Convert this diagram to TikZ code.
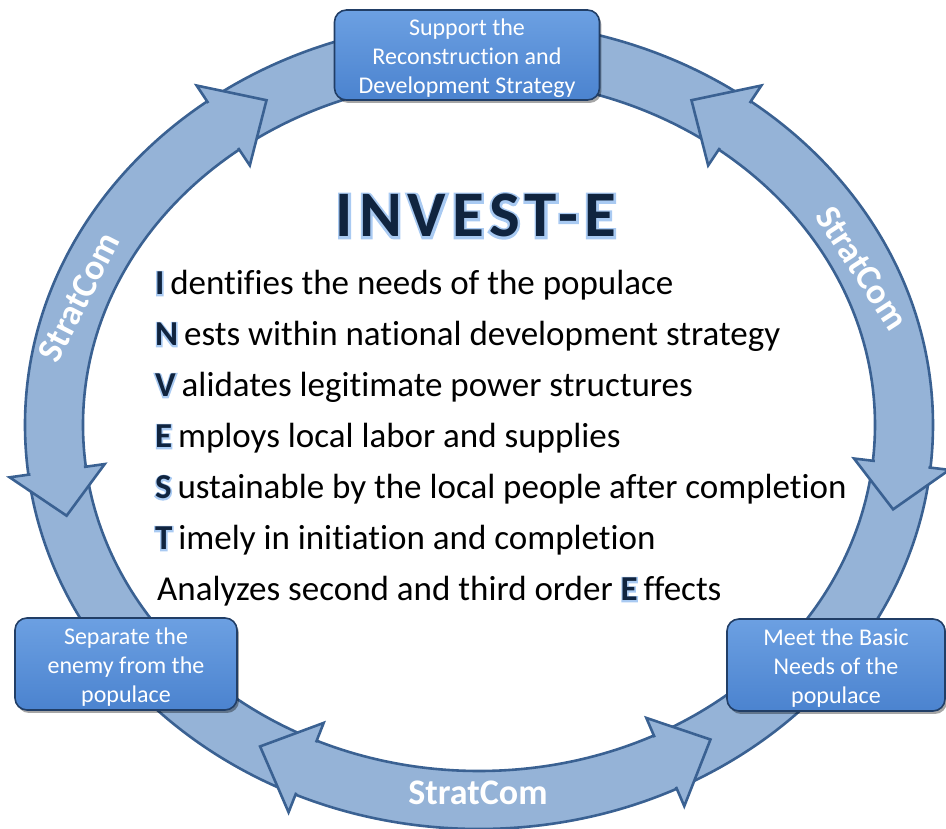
\documentclass[tikz,border=0pt]{standalone}
\usepackage{fontspec}
\setmainfont{Carlito}[Ligatures=NoCommon]
\newfontfamily\initfont[Ligatures=NoCommon]{Carlito Bold}
\newfontfamily\initglow[FakeBold=8]{Carlito Bold}
\newfontfamily\titlefont[LetterSpace=9]{Carlito Bold}
\newfontfamily\titleglow[LetterSpace=9,FakeBold=7]{Carlito Bold}
\usepackage{tikz}
\usetikzlibrary{math,calc,shadows}

\definecolor{bandfill}{HTML}{95B3D7}
\definecolor{bandline}{HTML}{3A6192}
\definecolor{boxtop}{HTML}{6CA0E2}
\definecolor{boxbot}{HTML}{4B83CF}
\definecolor{boxline}{HTML}{213E66}
\definecolor{navytext}{HTML}{10243F}
\definecolor{glowblue}{HTML}{A9CAF2}

\newcommand\initial[1]{\makebox[0pt][l]{\initglow\textcolor{glowblue}{#1}}%
  {\initfont\textcolor{navytext}{#1}}\,}
\newcommand\boxstrut{\rule{0pt}{23pt}}

\tikzset{
  goalbox/.style={draw=boxline, line width=1.6pt, rounded corners=12pt,
    top color=boxtop, bottom color=boxbot, text=white, align=center,
    font=\fontsize{24}{29}\selectfont, inner sep=0pt,
    drop shadow={shadow xshift=2pt, shadow yshift=-3pt, opacity=.35, fill=black}},
  stratcom/.style={text=white, font=\fontsize{36}{40}\selectfont\bfseries},
  item/.style={anchor=base west, inner sep=0pt, font=\fontsize{35}{40}\selectfont},
}

\begin{document}
\begin{tikzpicture}[x=1pt, y=1pt]
  \tikzmath{\ra = 425; \rb = 375; \bw = 29; \hw = 48; \nw = 27;}
  \useasboundingbox (-479,-404) rectangle (467,425);

  % ring
  \fill[bandfill, even odd rule] (0,0) ellipse [x radius=\ra+\bw, y radius=\rb+\bw]
    (0,0) ellipse [x radius=\ra-\bw, y radius=\rb-\bw];
  \draw[bandline, line width=2.6pt] (0,0) ellipse [x radius=\ra+\bw, y radius=\rb+\bw];
  \draw[bandline, line width=2.6pt] (0,0) ellipse [x radius=\ra-\bw, y radius=\rb-\bw];

  % arrow heads
  \foreach \t/\s in {60/1, 120/-1, 194/1, 239/-1, 303/1, 347/-1}{
    \pgfmathsetmacro\tb{\t-7*\s}
    \pgfmathsetmacro\nx{cos(\tb)*\rb/\ra}
    \pgfmathsetmacro\ny{sin(\tb)}
    \pgfmathsetmacro\nl{veclen(\nx,\ny)}
    \coordinate (hb) at ({\ra*cos(\tb)},{\rb*sin(\tb)});
    \coordinate (ht) at ({\ra*cos(\t)},{\rb*sin(\t)});
    \coordinate (n1) at ($(hb)+({\nw*\nx/\nl},{\nw*\ny/\nl})$);
    \coordinate (n2) at ($(hb)-({\nw*\nx/\nl},{\nw*\ny/\nl})$);
    \coordinate (b1) at ($(hb)+({\hw*\nx/\nl},{\hw*\ny/\nl})$);
    \coordinate (b2) at ($(hb)-({\hw*\nx/\nl},{\hw*\ny/\nl})$);
    \fill[bandfill] (n1) -- (b1) -- (ht) -- (b2) -- (n2) -- cycle;
    \draw[bandline, line width=2.6pt, line join=miter] (n1) -- (b1) -- (ht) -- (b2) -- (n2);
  }

  % goals
  \node[goalbox, minimum width=265pt, minimum height=90pt] (support) at (-12,370)
    {\boxstrut Support the\\Reconstruction and\\Development Strategy};
  \node[goalbox, minimum width=222pt, minimum height=92pt] (separate) at (-353,-239)
    {\boxstrut Separate the\\enemy from the\\populace};
  \node[goalbox, minimum width=218pt, minimum height=92pt] (meet) at (357,-240)
    {\boxstrut Meet the Basic\\Needs of the\\populace};

  \node[stratcom, rotate=63] (scleft) at (-400,128) {StratCom};
  \node[stratcom, rotate=-57] (scright) at (383,157) {StratCom};
  \node[stratcom] (scbottom) at (-1,-368) {StratCom};

  % acronym
  \node[anchor=base, inner sep=0pt, font=\fontsize{65}{70}\selectfont] (title) at (-3,188)
    {\makebox[0pt][l]{\titleglow\textcolor{glowblue}{INVEST-E}}%
     {\titlefont\textcolor{navytext}{INVEST-E}}};
  \node[item] (lineI) at (-324,130) {\initial{I}dentifies the needs of the populace};
  \node[item] (lineN) at (-324,79) {\initial{N}ests within national development strategy};
  \node[item] (lineV) at (-324,28) {\initial{V}alidates legitimate power structures};
  \node[item] (lineE) at (-324,-23) {\initial{E}mploys local labor and supplies};
  \node[item] (lineS) at (-324,-74) {\initial{S}ustainable by the local people after completion};
  \node[item] (lineT) at (-324,-125) {\initial{T}imely in initiation and completion};
  \node[item] (lineA) at (-322,-176) {Analyzes second and third order \initial{E}ffects};
\end{tikzpicture}
\end{document}
